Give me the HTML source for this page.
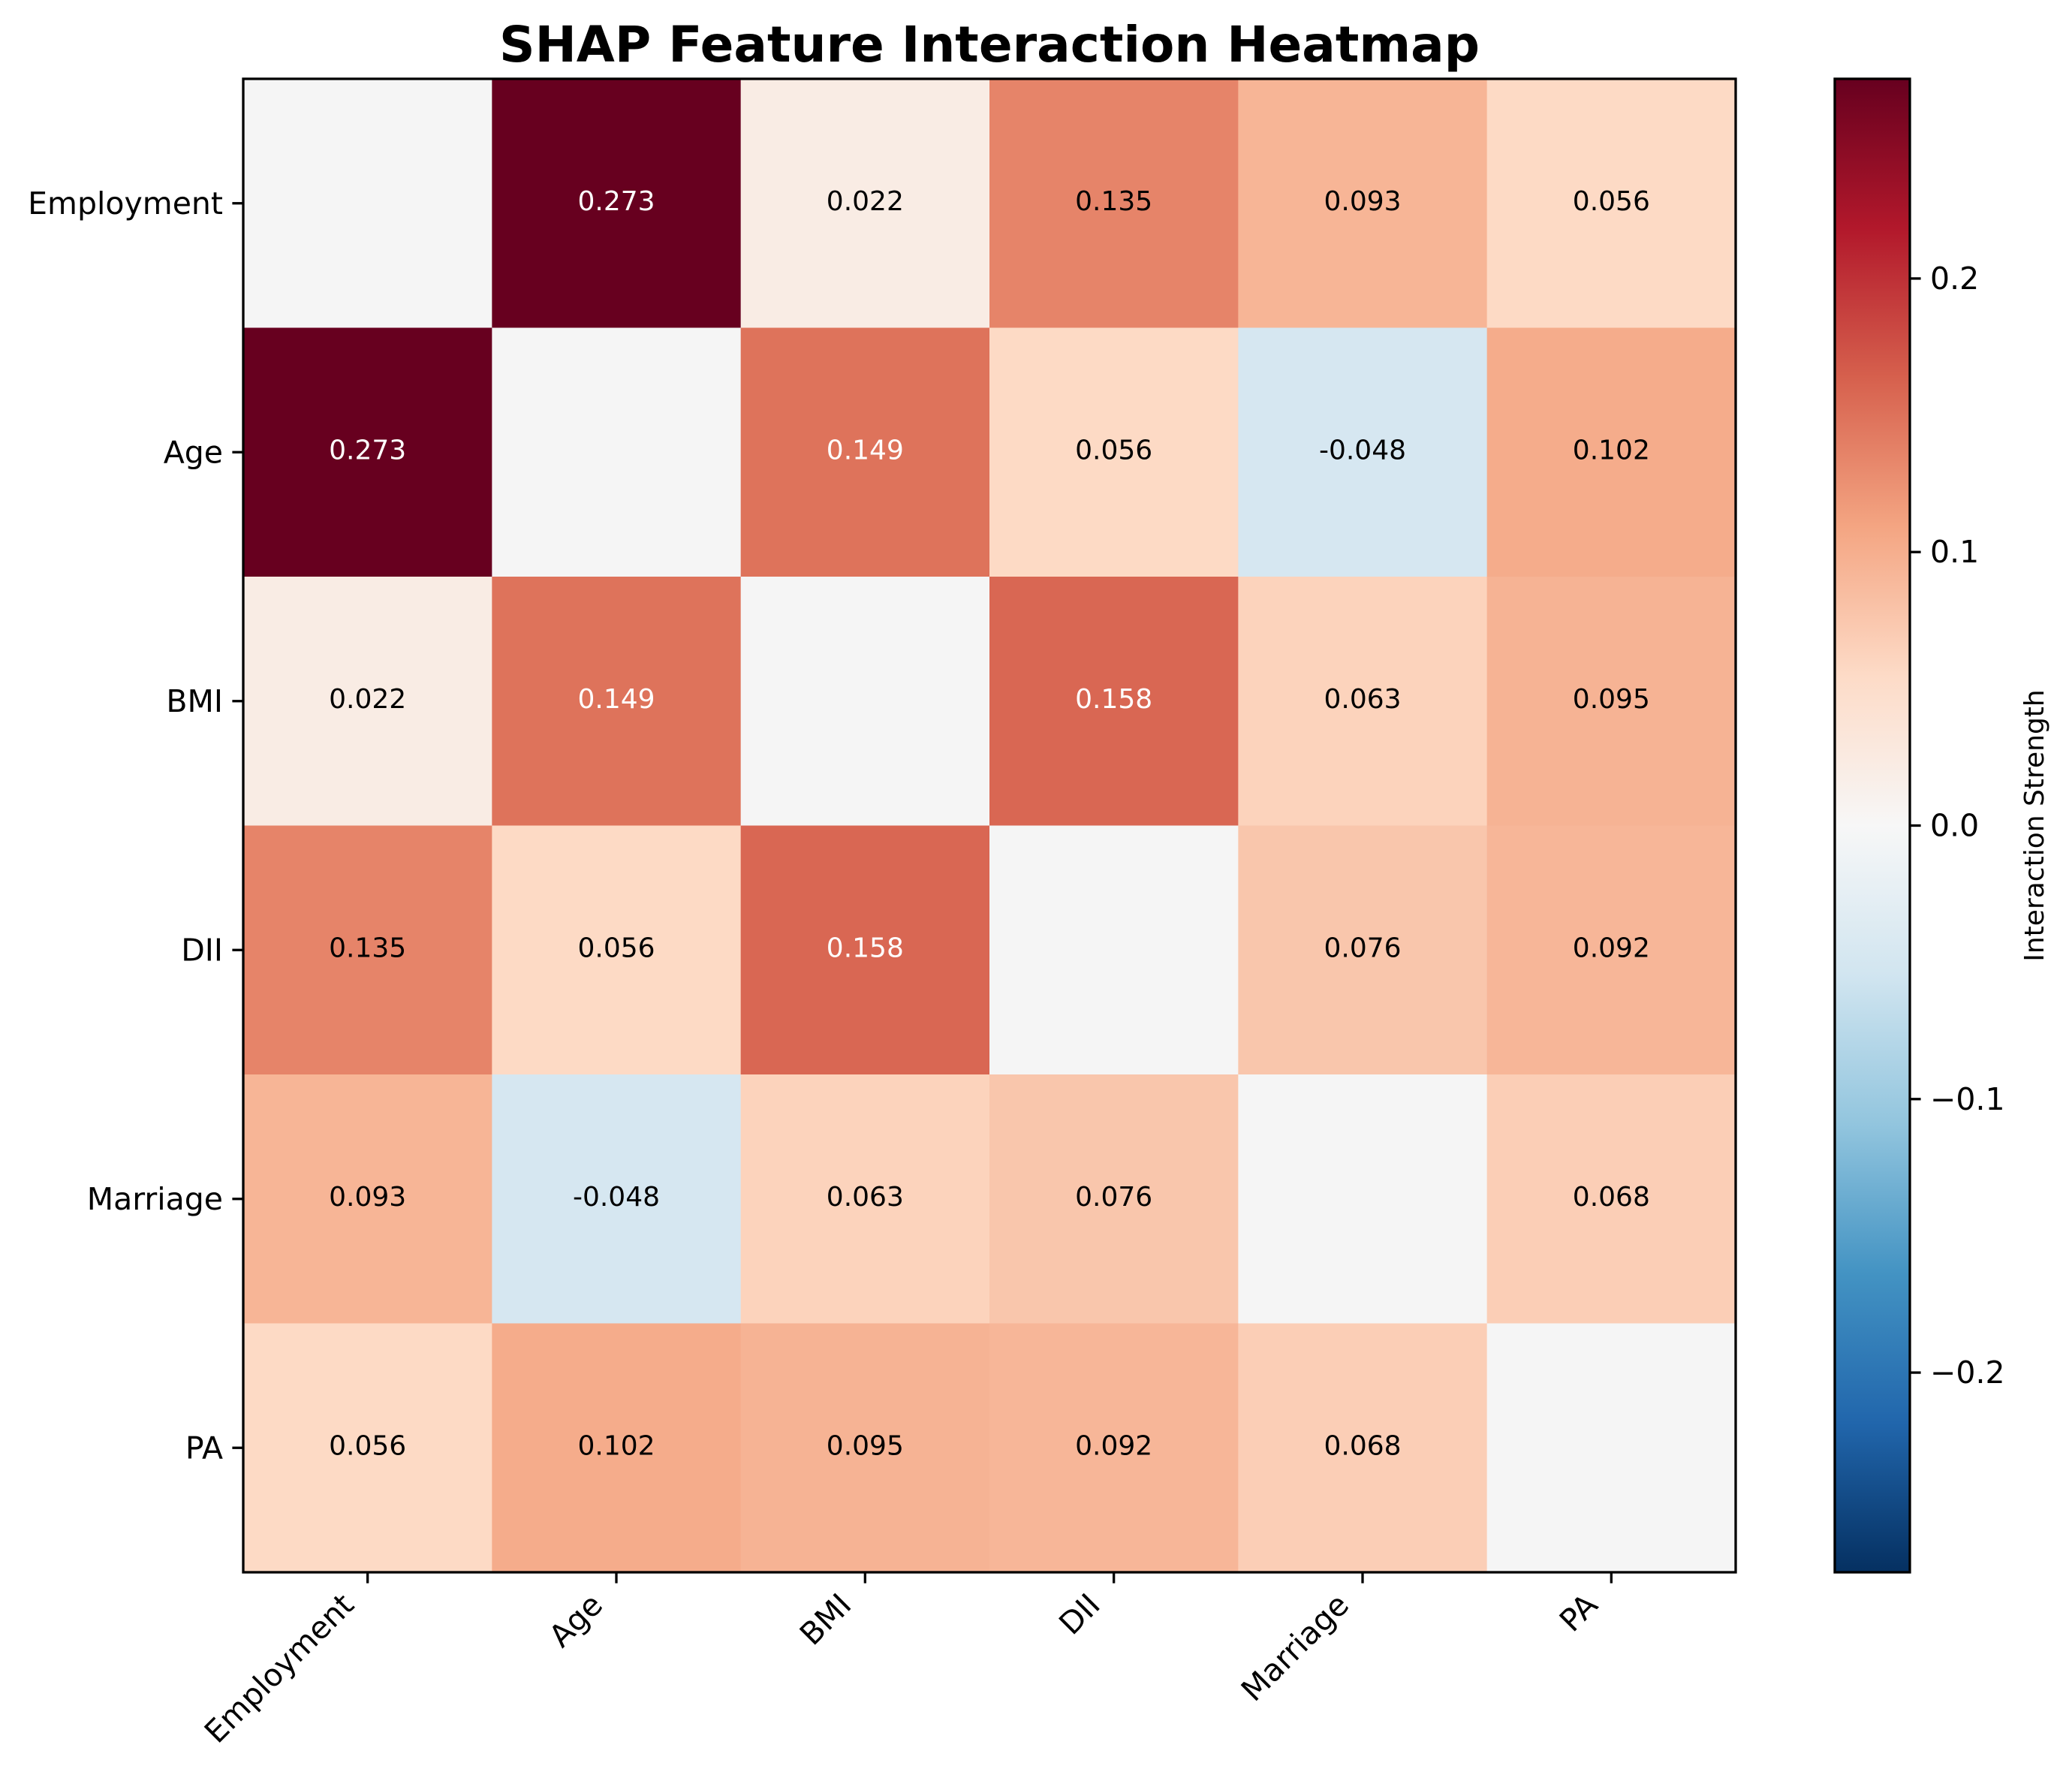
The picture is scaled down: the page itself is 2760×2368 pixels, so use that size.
<!DOCTYPE html>
<html><head><meta charset="utf-8"><style>
html,body{margin:0;padding:0;background:#fff}
svg{display:block;font-family:"DejaVu Sans","Liberation Sans",sans-serif}
</style></head><body>
<svg id="chart" width="2760" height="2368" viewBox="0 0 2760 2368" xmlns="http://www.w3.org/2000/svg">
<rect width="2760" height="2368" fill="#fff"/>
<text x="1318" y="82" text-anchor="middle" font-size="66" font-weight="bold">SHAP Feature Interaction Heatmap</text>
<defs><linearGradient id="cbgrad" x1="0" y1="1" x2="0" y2="0"></linearGradient></defs>
<g id="cells"></g><g id="labels"></g><g id="axes"></g><g id="cbar"></g>
</svg>
<script>
const features = ["Employment","Age","BMI","DII","Marriage","PA"];
const row0 = [0, 0.273, 0.022, 0.135, 0.093, 0.056];
const row1 = [0.273, 0, 0.149, 0.056, -0.048, 0.102];
const row2 = [0.022, 0.149, 0, 0.158, 0.063, 0.095];
const row3 = [0.135, 0.056, 0.158, 0, 0.076, 0.092];
const row4 = [0.093, -0.048, 0.063, 0.076, 0, 0.068];
const row5 = [0.056, 0.102, 0.095, 0.092, 0.068, 0];
const cbTicks = [-0.2, -0.1, 0.0, 0.1, 0.2];
const vmax = 0.273;

const matrix = [row0,row1,row2,row3,row4,row5];
const NS = "http://www.w3.org/2000/svg";
const PL=324, PT=105, PR=2312, PB=2094;
const n = features.length;
const cw=(PR-PL)/n, ch=(PB-PT)/n;
const xPos = i => PL + i*cw;
const yPos = i => PT + i*ch;
const stops = ["#053061","#2166ac","#4393c3","#92c5de","#d1e5f0","#f7f7f7","#fddbc7","#f4a582","#d6604d","#b2182b","#67001f"];
function hex(h){return [1,3,5].map(i=>parseInt(h.substr(i,2),16));}
function cmap(v){
  let t=(v+vmax)/(2*vmax); t=Math.max(0,Math.min(1,t));
  const f=t*10, i=Math.min(9,Math.floor(f)), r=f-i;
  const a=hex(stops[i]), b=hex(stops[i+1]);
  return "rgb("+a.map((c,k)=>Math.round(c+(b[k]-c)*r)).join(",")+")";
}
function mk(tag, attrs, parent){const e=document.createElementNS(NS,tag);for(const k in attrs)e.setAttribute(k,attrs[k]);parent.appendChild(e);return e;}
const cells=document.getElementById("cells"), labels=document.getElementById("labels"), axes=document.getElementById("axes"), cbar=document.getElementById("cbar");

for(let r=0;r<n;r++){for(let c=0;c<n;c++){
  const v=matrix[r][c];
  const rect=mk("rect",{x:xPos(c),y:yPos(r),width:cw+0.5,height:ch+0.5,fill:r===c?"#f5f5f5":cmap(v)},cells);
  
  
  if(r!==c){
    const t=mk("text",{x:xPos(c)+cw/2,y:yPos(r)+ch/2+9,"text-anchor":"middle","font-size":"36",fill:Math.abs(v)>vmax/2?"#fff":"#000"},labels);
    t.textContent=v.toFixed(3);
    
    
  }
}}
const frame=mk("rect",{x:PL,y:PT,width:PR-PL,height:PB-PT,fill:"none",stroke:"#000","stroke-width":3.3},axes);


for(let i=0;i<n;i++){
  const cy=yPos(i)+ch/2, cx=xPos(i)+cw/2;
  const yt=mk("line",{x1:PL-14.6,x2:PL,y1:cy,y2:cy,stroke:"#000","stroke-width":3.3},axes);
  
  
  const yl=mk("text",{x:PL-27,y:cy+14,"text-anchor":"end","font-size":"41"},axes);
  yl.textContent=features[i];
  
  
  const xt=mk("line",{x1:cx,x2:cx,y1:PB,y2:PB+14.6,stroke:"#000","stroke-width":3.3},axes);
  
  
  const ex=cx-16, ey=PB+46;
  const xl=mk("text",{x:ex,y:ey,"text-anchor":"end","font-size":"41",transform:"rotate(-45 "+ex+" "+ey+")"},axes);
  xl.textContent=features[i];
  
  
}
const CL=2444, CR=2544, CT=105, CB=2094;
const grad=document.getElementById("cbgrad");
stops.forEach((s,i)=>mk("stop",{offset:(i/10),"stop-color":s},grad));
const cb=mk("rect",{x:CL,y:CT,width:CR-CL,height:CB-CT,fill:"url(#cbgrad)",stroke:"#000","stroke-width":3.3},cbar);


const cbY=v=>CB-(v+vmax)/(2*vmax)*(CB-CT);
cbTicks.forEach(v=>{
  const y=cbY(v);
  const tl=mk("line",{x1:CR,x2:CR+14.6,y1:y,y2:y,stroke:"#000","stroke-width":3.3},cbar);
  
  
  const tx=mk("text",{x:CR+27,y:y+14,"font-size":"41"},cbar);
  tx.textContent=(v<0?"\u2212":"")+Math.abs(v).toFixed(1);
  
  
});
const cl=mk("text",{x:2722,y:(CT+CB)/2,"text-anchor":"middle","font-size":"36",transform:"rotate(-90 2722 "+((CT+CB)/2)+")"},cbar);
cl.textContent="Interaction Strength";


</script>
</body></html>
